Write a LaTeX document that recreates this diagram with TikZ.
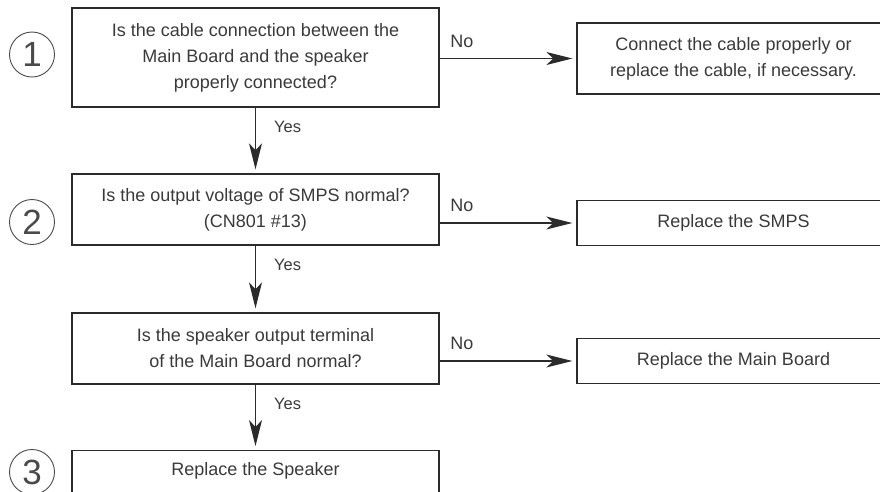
\documentclass[tikz,border=0pt]{standalone}
\usepackage{fontspec}
\setmainfont{Liberation Sans}
\usetikzlibrary{arrows.meta,positioning}
\definecolor{inkgray}{HTML}{2B2B2B}
\definecolor{textgray}{HTML}{3A3A3A}
\definecolor{numgray}{HTML}{4A4A4A}

\tikzset{
  qbox/.style={draw=inkgray,line width=1.4pt,rectangle,minimum width=367pt,minimum height=71pt,
    align=center,text=textgray,font=\fontsize{18}{26}\selectfont,inner sep=0pt},
  abox/.style={draw=inkgray,line width=1.4pt,rectangle,minimum width=313pt,minimum height=45pt,
    align=center,text=textgray,font=\fontsize{18}{26}\selectfont,inner sep=0pt},
  stepnum/.style={draw=numgray,line width=0.9pt,circle,minimum size=45pt,inner sep=0pt,
    text=numgray,font=\fontsize{35}{35}\selectfont},
  flow/.style={draw=inkgray,line width=1.2pt,-{Stealth[length=26pt,width=13pt,inset=7pt]},shorten >=4pt},
  nolbl/.style={text=textgray,font=\fontsize{18}{18}\selectfont,inner sep=0pt,anchor=south west,xshift=10pt,yshift=10.5pt},
  yeslbl/.style={text=textgray,font=\fontsize{16.5}{16.5}\selectfont,inner sep=0pt,anchor=north west,xshift=18pt,yshift=-13pt}
}

\begin{document}
\begin{tikzpicture}[x=1pt,y=-1pt]
  \useasboundingbox (0,0) rectangle (880,491);
  \clip (0,0) rectangle (880,491);
  % question boxes
  \node[qbox,minimum height=99pt] (ask1) at (255.5,57.5) {Is the cable connection between the\\Main Board and the speaker\\properly connected?};
  \node[qbox] (ask2) at (255.5,209.5) {Is the output voltage of SMPS normal?\\(CN801 \#13)};
  \node[qbox] (ask3) at (255.5,348.5) {Is the speaker output terminal\\of the Main Board normal?};
  \node[qbox,anchor=north,text height=18.5pt,text depth=40.5pt,inner ysep=6pt,minimum height=0pt] (fix4) at (255.5,450) {Replace the Speaker};
  % answer boxes
  \node[abox,minimum height=71pt] (fix1) at (733.5,58.5) {Connect the cable properly or\\replace the cable, if necessary.};
  \node[abox] (fix2) at (733.5,223) {Replace the SMPS};
  \node[abox] (fix3) at (733.5,361) {Replace the Main Board};
  % step numbers
  \node[stepnum] (num1) at (32,54.5) {1};
  \node[stepnum] (num2) at (32,222) {2};
  \node[stepnum] (num3) at (32,472) {3};
  % connectors
  \draw[flow] (ask1.east |- fix1.west) -- node[nolbl,pos=0] {No} (fix1.west);
  \draw[flow] (ask2.east |- fix2.west) -- node[nolbl,pos=0] {No} (fix2.west);
  \draw[flow] (ask3.east |- fix3.west) -- node[nolbl,pos=0] {No} (fix3.west);
  \draw[flow] (ask1.south) -- node[yeslbl,pos=0] {Yes} (ask2.north);
  \draw[flow] (ask2.south) -- node[yeslbl,pos=0] {Yes} (ask3.north);
  \draw[flow] (ask3.south) -- node[yeslbl,pos=0] {Yes} (fix4.north);
\end{tikzpicture}
\end{document}
